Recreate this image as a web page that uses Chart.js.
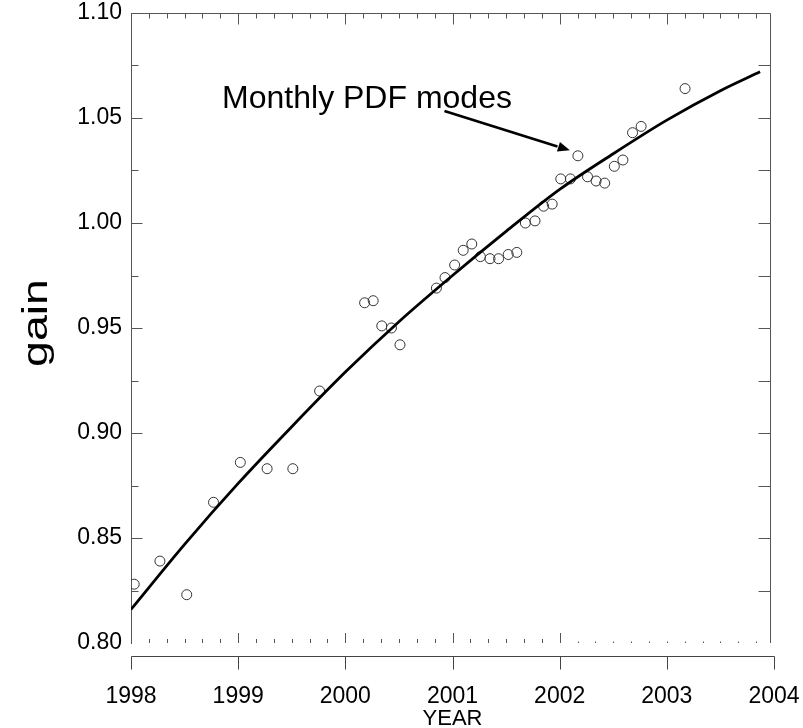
<!DOCTYPE html>
<html lang="en">

<head>
    <meta charset="UTF-8">
    <title>gain vs year</title>
    <script src="https://cdn.jsdelivr.net/npm/chart.js"></script>
    <style>
        body {
            margin: 0;
            background: #fff;
        }

        #gainChart {
            display: block;
        }
    </style>
</head>

<body>
    <canvas id="gainChart" width="803" height="728"></canvas>

    <script>
        // monthly PDF modes
        const obsYear = [1998.03, 1998.27, 1998.52, 1998.77, 1999.02, 1999.27, 1999.51, 1999.76,
            2000.18, 2000.26, 2000.34, 2000.43, 2000.51, 2000.85, 2000.93,
            2001.02, 2001.10, 2001.18, 2001.26, 2001.35, 2001.43, 2001.52, 2001.60, 2001.68, 2001.77, 2001.85, 2001.93,
            2002.01, 2002.10, 2002.17, 2002.26, 2002.34, 2002.42, 2002.51, 2002.59, 2002.68, 2002.76,
            2003.17]
        const obsGain = [0.828, 0.839, 0.823, 0.867, 0.886, 0.883, 0.883, 0.920,
            0.962, 0.963, 0.951, 0.950, 0.942, 0.969, 0.974,
            0.980, 0.987, 0.990, 0.984, 0.983, 0.983, 0.985, 0.986, 1.000, 1.001, 1.008, 1.009,
            1.021, 1.021, 1.032, 1.022, 1.020, 1.019, 1.027, 1.030, 1.043, 1.046,
            1.064]

        // fitted curve
        const fitYear = [1998.0, 1998.5, 1999.0, 1999.5, 2000.0, 2000.5, 2001.0, 2001.5, 2002.0, 2002.5, 2003.0, 2003.5, 2003.87]
        const fitGain = [0.816, 0.847, 0.876, 0.903, 0.929, 0.953, 0.975, 0.996, 1.016, 1.033, 1.049, 1.063, 1.072]

        const yearTicks = [1998, 1999, 2000, 2001, 2002, 2003, 2004]
        const gainTicks = [0.80, 0.85, 0.90, 0.95, 1.00, 1.05, 1.10]

        // annotation, in data units
        const noteText = 'Monthly PDF modes'
        const notePos = [1998.85, 1.0546]
        const arrowFrom = [2000.925, 1.0533]
        const arrowTo = [2002.095, 1.0346]
        const frameRight = 2003.96

        const FONT = '"Liberation Sans", Arial, Helvetica, sans-serif'

        // box, inner ticks, lower year axis and texts
        const framePlugin = {
            id: 'frame',
            afterDraw(chart) {
                const ctx = chart.ctx
                const xs = chart.scales.x
                const ys = chart.scales.y
                const a = chart.chartArea
                const right = Math.round(xs.getPixelForValue(frameRight)) + 0.5
                const top = a.top + 0.5
                const left = a.left + 0.5
                const bottom = a.bottom

                ctx.save()
                ctx.strokeStyle = '#555'
                ctx.lineWidth = 1
                ctx.beginPath()
                ctx.moveTo(left, top)
                ctx.lineTo(right, top)
                ctx.lineTo(right, bottom)

                // top and bottom ticks, every two months
                for (let i = 1; i < 36; i++) {
                    const v = 1998 + i / 6
                    const px = Math.round(xs.getPixelForValue(v)) + 0.5
                    if (px >= right) break
                    const major = i % 6 === 0
                    ctx.moveTo(px, top)
                    ctx.lineTo(px, top + (major ? 11 : 5))
                    let len = major ? 10 : 4
                    if (i > 24) len = 1.5
                    ctx.moveTo(px, bottom)
                    ctx.lineTo(px, bottom - len)
                }

                // left and right ticks
                for (let j = 1; j < 12; j++) {
                    const v = 0.80 + j * 0.025
                    const py = Math.round(ys.getPixelForValue(v)) + 0.5
                    ctx.moveTo(left, py)
                    ctx.lineTo(left + (j % 2 === 0 ? 11 : 7), py)
                    ctx.moveTo(right, py)
                    ctx.lineTo(right - 12, py)
                }
                ctx.stroke()

                // separate year axis under the box
                const y0 = bottom + 13.5
                ctx.strokeStyle = '#444'
                ctx.beginPath()
                ctx.moveTo(Math.round(xs.getPixelForValue(yearTicks[0])) + 0.5, y0)
                ctx.lineTo(Math.round(xs.getPixelForValue(yearTicks[yearTicks.length - 1])) + 0.5, y0)
                yearTicks.forEach(v => {
                    const px = Math.round(xs.getPixelForValue(v)) + 0.5
                    ctx.moveTo(px, y0)
                    ctx.lineTo(px, y0 + 13)
                })
                ctx.stroke()

                // y title, drawn stretched like the original
                ctx.fillStyle = '#000'
                ctx.save()
                ctx.translate(37.5, 323)
                ctx.rotate(-Math.PI / 2)
                ctx.scale(1.33, 1)
                ctx.font = '35px ' + FONT
                ctx.textAlign = 'center'
                ctx.textBaseline = 'middle'
                ctx.fillText('gain', 0, 0)
                ctx.restore()

                // annotation and arrow
                ctx.font = '32px ' + FONT
                ctx.textAlign = 'left'
                ctx.textBaseline = 'alphabetic'
                ctx.fillText(noteText, xs.getPixelForValue(notePos[0]), ys.getPixelForValue(notePos[1]))

                const x1 = xs.getPixelForValue(arrowFrom[0])
                const y1 = ys.getPixelForValue(arrowFrom[1])
                const x2 = xs.getPixelForValue(arrowTo[0])
                const y2 = ys.getPixelForValue(arrowTo[1])
                const ang = Math.atan2(y2 - y1, x2 - x1)
                const head = 13
                ctx.strokeStyle = '#000'
                ctx.lineWidth = 2.6
                ctx.beginPath()
                ctx.moveTo(x1, y1)
                ctx.lineTo(x2 - head * Math.cos(ang), y2 - head * Math.sin(ang))
                ctx.stroke()
                ctx.beginPath()
                ctx.moveTo(x2, y2)
                ctx.lineTo(x2 - head * Math.cos(ang - 0.4), y2 - head * Math.sin(ang - 0.4))
                ctx.lineTo(x2 - head * Math.cos(ang + 0.4), y2 - head * Math.sin(ang + 0.4))
                ctx.closePath()
                ctx.fill()
                ctx.restore()
            }
        }

        const ctx = document.getElementById('gainChart').getContext('2d')

        new Chart(ctx, {
            type: 'scatter',
            data: {
                datasets: [{
                    type: 'line',
                    label: 'fit',
                    data: fitYear.map((x, i) => ({ x: x, y: fitGain[i] })),
                    borderColor: '#000',
                    borderWidth: 2.8,
                    pointRadius: 0,
                    cubicInterpolationMode: 'monotone',
                    fill: false
                }, {
                    label: 'Monthly PDF modes',
                    data: obsYear.map((x, i) => ({ x: x, y: obsGain[i] })),
                    pointStyle: 'circle',
                    pointRadius: 5,
                    pointBorderWidth: 1,
                    pointBorderColor: '#333',
                    pointBackgroundColor: 'rgba(0,0,0,0)'
                }]
            },
            options: {
                responsive: false,
                animation: false,
                layout: {
                    padding: { top: 13, right: 29, left: 0, bottom: 0 }
                },
                plugins: {
                    legend: { display: false },
                    tooltip: { enabled: false }
                },
                scales: {
                    x: {
                        type: 'linear',
                        min: yearTicks[0],
                        max: yearTicks[yearTicks.length - 1],
                        afterFit: (scale) => {
                            scale.height = 85
                            scale.paddingLeft = 0
                            scale.paddingRight = 0
                        },
                        afterBuildTicks: (scale) => { scale.ticks = yearTicks.map(v => ({ value: v })) },
                        grid: { display: false, drawTicks: false },
                        border: { display: false },
                        ticks: {
                            padding: 40,
                            color: '#000',
                            font: { family: FONT, size: 23 },
                            callback: (v) => String(v)
                        },
                        title: {
                            display: true,
                            text: 'YEAR',
                            color: '#000',
                            font: { family: FONT, size: 22 },
                            padding: { top: 0, bottom: -4 }
                        }
                    },
                    y: {
                        min: gainTicks[0],
                        max: gainTicks[gainTicks.length - 1],
                        afterFit: (scale) => {
                            scale.width = 131
                            scale.paddingTop = 0
                            scale.paddingBottom = 0
                        },
                        afterBuildTicks: (scale) => { scale.ticks = gainTicks.map(v => ({ value: v })) },
                        grid: { display: false, drawTicks: false },
                        border: { display: true, color: '#555', width: 1 },
                        ticks: {
                            padding: 9,
                            color: '#000',
                            font: { family: FONT, size: 23 },
                            callback: (v) => v.toFixed(2)
                        }
                    }
                }
            },
            plugins: [framePlugin]
        });
    </script>
</body>

</html>
